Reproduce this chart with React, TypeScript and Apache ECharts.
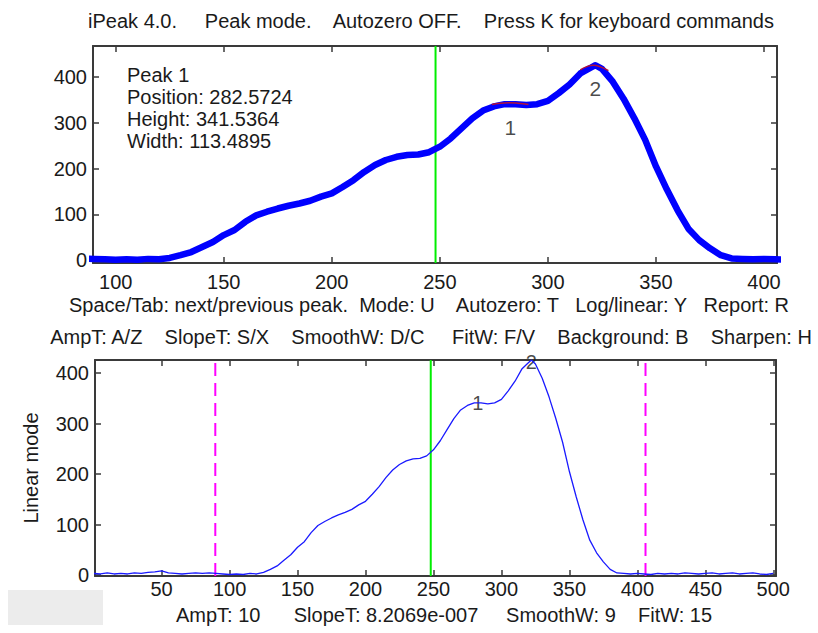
import React, { useEffect, useRef } from "react";
import * as echarts from "echarts";

// Signal
const xs = [0,5,10,15,20,25,30,35,40,45,50,55,60,65,70,75,80,85,90,95,100,105,110,115,120,125,130,135,140,145,150,155,160,165,170,175,180,185,190,195,200,205,210,215,220,225,230,235,240,245,250,255,260,265,270,275,280,285,290,295,300,305,310,315,320,322,325,330,335,340,345,350,355,360,365,370,375,380,385,390,395,400,405,410,415,420,425,430,435,440,445,450,455,460,465,470,475,480,485,490,495,500];
const ys = [3,2,4,2,3,2,4,3,5,6,8,4,3,2,3,4,3,4,3,2,1,2,1,3,2,5,11,18,29,40,55,66,84,98,106,113,119,124,130,139,146,160,175,193,208,219,226,230,231,236,248,266,288,310,327,336,341,341,339,341,348,365,384,408,421,426,418,390,353,310,263,205,155,109,69,44,26,11,4,3,2,3,2,1,3,2,3,2,4,3,2,3,4,2,3,4,2,3,4,2,1,3];

// Peak fits (red) and peak markers
const fit1X = [274, 278, 282, 286, 291];
const fit1Y = [340, 343, 344, 343, 340];
const fit2X = [315, 318, 321, 324, 328];
const fit2Y = [416, 423, 426, 423, 414];
const peakLabels = ["1", "2"];
const peakX = [282.5724, 322];
const peakY = [341.5364, 422];
const topLabelY = [291, 376];

// Axes
const topXRange = [89.5, 406];
const topYRange = [-6, 468];
const botXRange = [1, 502];
const botYRange = [-2, 426];
const topXTicks = [100, 150, 200, 250, 300, 350, 400];
const yTicks = [0, 100, 200, 300, 400];
const botXTicks = [50, 100, 150, 200, 250, 300, 350, 400, 450, 500];
const cursorX = 248;

// Texts
const titleText = "iPeak 4.0.     Peak mode.    Autozero OFF.    Press K for keyboard commands";
const infoLines = ["Peak 1", "Position: 282.5724", "Height: 341.5364", "Width: 113.4895"];
const helpLine1 = "Space/Tab: next/previous peak.  Mode: U    Autozero: T   Log/linear: Y   Report: R";
const helpLine2 = "AmpT: A/Z    SlopeT: S/X    SmoothW: D/C     FitW: F/V    Background: B    Sharpen: H";
const statusLine = "AmpT: 10      SlopeT: 8.2069e-007     SmoothW: 9    FitW: 15";
const yName = "Linear mode";

const FONT = "'Liberation Sans', Arial, sans-serif";
const FS = 20;
const TXT = "#1a1a1a";
const AX = "#3a3a3a";

export default function App() {
  const ref = useRef<HTMLDivElement>(null);
  useEffect(() => {
    if (!ref.current) return;
    const chart = echarts.init(ref.current, null, { renderer: "svg" });
    const signal = xs.map((x, i) => [x, ys[i]]);
    const fit1 = fit1X.map((x, i) => [x, fit1Y[i]]);
    const fit2 = fit2X.map((x, i) => [x, fit2Y[i]]);

    const mkX = (gi: number, range: number[], ticks: number[], pos: string, labels: boolean, margin: number) => ({
      type: "value",
      gridIndex: gi,
      position: pos,
      min: range[0],
      max: range[1],
      splitLine: { show: false },
      axisLine: { show: true, onZero: false, lineStyle: { color: AX, width: 2 } },
      axisTick: { show: true, inside: true, length: 6, customValues: ticks, lineStyle: { color: AX, width: 1.5 } },
      axisLabel: {
        show: labels,
        customValues: ticks,
        margin,
        color: TXT,
        fontFamily: FONT,
        fontSize: FS,
      },
    });
    const mkY = (gi: number, range: number[], pos: string, labels: boolean, name?: string) => ({
      type: "value",
      gridIndex: gi,
      position: pos,
      min: range[0],
      max: range[1],
      name: name || "",
      nameLocation: "middle",
      nameGap: 54,
      nameTextStyle: { color: TXT, fontFamily: FONT, fontSize: FS },
      splitLine: { show: false },
      axisLine: { show: true, onZero: false, lineStyle: { color: AX, width: 2 } },
      axisTick: { show: true, inside: true, length: 6, customValues: yTicks, lineStyle: { color: AX, width: 1.5 } },
      axisLabel: {
        show: labels,
        customValues: yTicks,
        margin: 6,
        color: TXT,
        fontFamily: FONT,
        fontSize: FS,
      },
    });

    const option: any = {
      animation: false,
      backgroundColor: "#ffffff",
      grid: [
        { left: 93, top: 46, width: 684, height: 217, containLabel: false },
        { left: 95, top: 360, width: 681, height: 216, containLabel: false },
      ],
      xAxis: [
        mkX(0, topXRange, topXTicks, "bottom", true, 9),
        mkX(0, topXRange, topXTicks, "top", false, 9),
        mkX(1, botXRange, botXTicks, "bottom", true, 3),
        mkX(1, botXRange, botXTicks, "top", false, 3),
      ],
      yAxis: [
        mkY(0, topYRange, "left", true),
        mkY(0, topYRange, "right", false),
        mkY(1, botYRange, "left", true, yName),
        mkY(1, botYRange, "right", false),
      ],
      series: [
        // top plot
        {
          type: "line",
          xAxisIndex: 0,
          yAxisIndex: 0,
          data: [[cursorX, topYRange[0]], [cursorX, topYRange[1]]],
          symbol: "none",
          lineStyle: { color: "#00ee00", width: 2 },
          silent: true,
        },
        {
          type: "line",
          xAxisIndex: 0,
          yAxisIndex: 0,
          data: signal,
          symbol: "none",
          lineStyle: { color: "#0000ff", width: 6.5, join: "round", cap: "round" },
          clip: true,
        },
        {
          type: "line",
          xAxisIndex: 0,
          yAxisIndex: 0,
          data: fit1,
          symbol: "none",
          smooth: true,
          lineStyle: { color: "#b0103a", width: 1.5 },
        },
        {
          type: "line",
          xAxisIndex: 0,
          yAxisIndex: 0,
          data: fit2,
          symbol: "none",
          smooth: true,
          lineStyle: { color: "#b0103a", width: 1.5 },
        },
        {
          type: "scatter",
          xAxisIndex: 0,
          yAxisIndex: 0,
          symbolSize: 1,
          itemStyle: { color: "rgba(0,0,0,0)" },
          data: peakLabels.map((l, i) => ({ value: [peakX[i], topLabelY[i]], name: l })),
          label: {
            show: true,
            position: "inside",
            formatter: (p: any) => p.name,
            color: TXT,
            fontFamily: FONT,
            fontSize: 21,
          },
        },
        // bottom plot
        {
          type: "line",
          xAxisIndex: 2,
          yAxisIndex: 2,
          data: [[cursorX, botYRange[0]], [cursorX, botYRange[1]]],
          symbol: "none",
          lineStyle: { color: "#00ee00", width: 2 },
        },
        {
          type: "line",
          xAxisIndex: 2,
          yAxisIndex: 2,
          data: [[topXRange[0], botYRange[0]], [topXRange[0], botYRange[1]]],
          symbol: "none",
          lineStyle: { color: "#ff00ff", width: 2, type: [13, 7] },
        },
        {
          type: "line",
          xAxisIndex: 2,
          yAxisIndex: 2,
          data: [[topXRange[1], botYRange[0]], [topXRange[1], botYRange[1]]],
          symbol: "none",
          lineStyle: { color: "#ff00ff", width: 2, type: [13, 7] },
        },
        {
          type: "line",
          xAxisIndex: 2,
          yAxisIndex: 2,
          data: signal,
          symbol: "none",
          lineStyle: { color: "#1a1aff", width: 1.3 },
          clip: true,
        },
        {
          type: "scatter",
          xAxisIndex: 2,
          yAxisIndex: 2,
          symbolSize: 1,
          itemStyle: { color: "rgba(0,0,0,0)" },
          data: peakLabels.map((l, i) => ({ value: [peakX[i], peakY[i]], name: l })),
          label: {
            show: true,
            position: "inside",
            formatter: (p: any) => p.name,
            color: TXT,
            fontFamily: FONT,
            fontSize: FS,
          },
        },
      ],
      graphic: [
        {
          type: "text",
          x: 431,
          y: 21,
          style: { text: titleText, fill: TXT, font: `${FS}px ${FONT}`, align: "center", verticalAlign: "middle" },
        },
        ...infoLines.map((t, i) => ({
          type: "text",
          x: 127,
          y: 75 + i * 22,
          z: 10,
          style: { text: t, fill: TXT, font: `${FS}px ${FONT}`, align: "left", verticalAlign: "middle" },
        })),
        {
          type: "text",
          x: 429,
          y: 305,
          style: { text: helpLine1, fill: TXT, font: `${FS}px ${FONT}`, align: "center", verticalAlign: "middle" },
        },
        {
          type: "text",
          x: 431,
          y: 337,
          style: { text: helpLine2, fill: TXT, font: `${FS}px ${FONT}`, align: "center", verticalAlign: "middle" },
        },
        {
          type: "rect",
          shape: { x: 8, y: 590, width: 95, height: 35 },
          style: { fill: "#ececec" },
        },
        {
          type: "text",
          x: 444,
          y: 615,
          style: { text: statusLine, fill: TXT, font: `${FS}px ${FONT}`, align: "center", verticalAlign: "middle" },
        },
      ],
    };
    chart.setOption(option);
    return () => chart.dispose();
  }, []);
  return (
    <div
      ref={ref}
      style={{ position: "fixed", left: 0, top: 0, width: 818, height: 633, background: "#fff" }}
    />
  );
}
